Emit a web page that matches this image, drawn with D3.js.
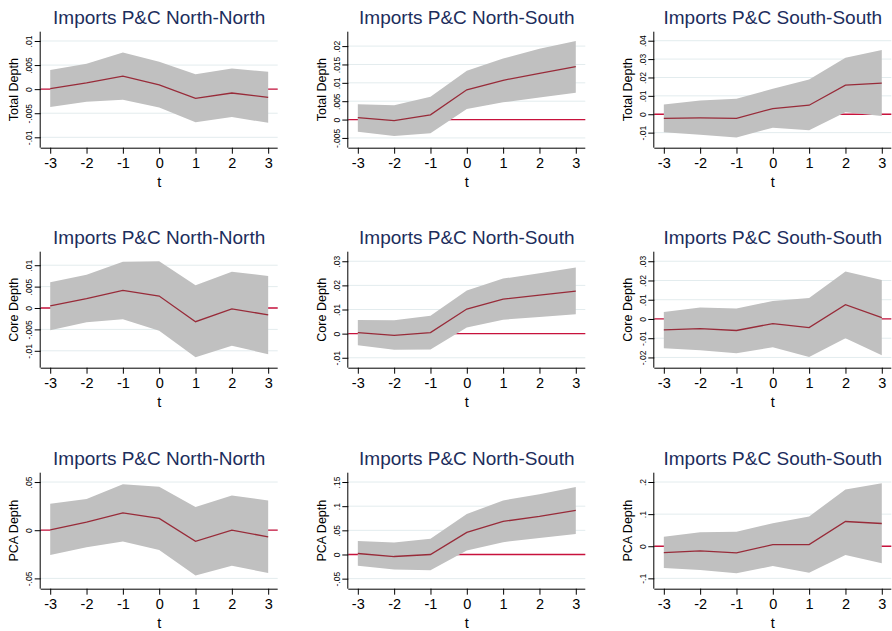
<!DOCTYPE html>
<html>
<head>
<meta charset="utf-8">
<script src="https://cdn.jsdelivr.net/npm/d3@7"></script>
<style>
  html, body { margin: 0; padding: 0; background: #ffffff; }
  svg { display: block; }
  text { font-family: "Liberation Sans", Arial, Helvetica, sans-serif; }
</style>
</head>
<body>
<svg id="chart" width="892" height="631"></svg>
<script>
// ---------------- DATA ----------------
const periods = [-3, -2, -1, 0, 1, 2, 3];
const panelTitles = ["Imports P&C North-North", "Imports P&C North-South", "Imports P&C South-South"];
const depthLabels = ["Total Depth", "Core Depth", "PCA Depth"];
const xAxisLabel = "t";

// Total Depth
const totalNN_mean = [0.0001, 0.0013, 0.0027, 0.0009, -0.0019, -0.0008, -0.0017];
const totalNN_hi   = [0.0040, 0.0053, 0.0076, 0.0057, 0.0031, 0.0043, 0.0036];
const totalNN_lo   = [-0.0037, -0.0026, -0.0022, -0.0038, -0.0069, -0.0058, -0.0070];
const totalNS_mean = [0.0005, -0.0003, 0.0013, 0.0081, 0.0107, 0.0126, 0.0144];
const totalNS_hi   = [0.0042, 0.0039, 0.0062, 0.0133, 0.0166, 0.0193, 0.0214];
const totalNS_lo   = [-0.0033, -0.0045, -0.0037, 0.0029, 0.0047, 0.0060, 0.0073];
const totalSS_mean = [-0.0022, -0.0020, -0.0022, 0.0031, 0.0049, 0.0158, 0.0169];
const totalSS_hi   = [0.0053, 0.0075, 0.0084, 0.0138, 0.0189, 0.0307, 0.0349];
const totalSS_lo   = [-0.0098, -0.0111, -0.0127, -0.0073, -0.0087, 0.0011, -0.0009];

// Core Depth
const coreNN_mean = [0.0005, 0.0022, 0.0041, 0.0028, -0.0032, -0.0002, -0.0016];
const coreNN_hi   = [0.0060, 0.0078, 0.0108, 0.0109, 0.0053, 0.0085, 0.0075];
const coreNN_lo   = [-0.0052, -0.0033, -0.0026, -0.0053, -0.0115, -0.0088, -0.0108];
const coreNS_mean = [0.0004, -0.0007, 0.0004, 0.0102, 0.0143, 0.0160, 0.0176];
const coreNS_hi   = [0.0056, 0.0055, 0.0074, 0.0179, 0.0228, 0.0250, 0.0274];
const coreNS_lo   = [-0.0048, -0.0067, -0.0066, 0.0025, 0.0058, 0.0069, 0.0080];
const coreSS_mean = [-0.0057, -0.0050, -0.0060, -0.0024, -0.0045, 0.0074, 0.0007];
const coreSS_hi   = [0.0036, 0.0059, 0.0055, 0.0093, 0.0109, 0.0247, 0.0203];
const coreSS_lo   = [-0.0152, -0.0162, -0.0178, -0.0147, -0.0198, -0.0100, -0.0188];

// PCA Depth
const pcaNN_mean = [0.0003, 0.0083, 0.0180, 0.0122, -0.0115, 0.0000, -0.0069];
const pcaNN_hi   = [0.0274, 0.0323, 0.0476, 0.0451, 0.0240, 0.0361, 0.0309];
const pcaNN_lo   = [-0.0257, -0.0177, -0.0118, -0.0205, -0.0469, -0.0368, -0.0444];
const pcaNS_mean = [0.0021, -0.0042, 0.0000, 0.0457, 0.0685, 0.0789, 0.0914];
const pcaNS_hi   = [0.0277, 0.0249, 0.0325, 0.0837, 0.1120, 0.1246, 0.1398];
const pcaNS_lo   = [-0.0235, -0.0311, -0.0325, 0.0083, 0.0256, 0.0339, 0.0422];
const pcaSS_mean = [-0.0198, -0.0146, -0.0208, 0.0052, 0.0052, 0.0771, 0.0708];
const pcaSS_hi   = [0.0292, 0.0438, 0.0448, 0.0719, 0.0927, 0.1770, 0.1960];
const pcaSS_lo   = [-0.0677, -0.0740, -0.0844, -0.0615, -0.0823, -0.0271, -0.0531];

// Axis ticks (values) per panel
const ticksTotalNN = [-0.01, -0.005, 0, 0.005, 0.01];
const ticksTotalNS = [-0.005, 0, 0.005, 0.01, 0.015, 0.02];
const ticksTotalSS = [-0.01, 0, 0.01, 0.02, 0.03, 0.04];
const ticksCoreNN  = [-0.01, -0.005, 0, 0.005, 0.01];
const ticksCoreNS  = [-0.01, 0, 0.01, 0.02, 0.03];
const ticksCoreSS  = [-0.02, -0.01, 0, 0.01, 0.02, 0.03];
const ticksPcaNN   = [-0.05, 0, 0.05];
const ticksPcaNS   = [-0.05, 0, 0.05, 0.1, 0.15];
const ticksPcaSS   = [-0.1, 0, 0.1, 0.2];

// Axis ranges per panel
const rangeTotalNN = [-0.01216, 0.01193];
const rangeTotalNS = [-0.00766, 0.02392];
const rangeTotalSS = [-0.0182, 0.0449];
const rangeCoreNN  = [-0.01395, 0.01316];
const rangeCoreNS  = [-0.01412, 0.03396];
const rangeCoreSS  = [-0.02533, 0.03496];
const rangePcaNN   = [-0.0607, 0.0597];
const rangePcaNS   = [-0.0708, 0.1693];
const rangePcaSS   = [-0.1322, 0.229];

const panels = [
  {row: 0, col: 0, mean: totalNN_mean, hi: totalNN_hi, lo: totalNN_lo, ticks: ticksTotalNN, range: rangeTotalNN},
  {row: 0, col: 1, mean: totalNS_mean, hi: totalNS_hi, lo: totalNS_lo, ticks: ticksTotalNS, range: rangeTotalNS},
  {row: 0, col: 2, mean: totalSS_mean, hi: totalSS_hi, lo: totalSS_lo, ticks: ticksTotalSS, range: rangeTotalSS},
  {row: 1, col: 0, mean: coreNN_mean, hi: coreNN_hi, lo: coreNN_lo, ticks: ticksCoreNN, range: rangeCoreNN},
  {row: 1, col: 1, mean: coreNS_mean, hi: coreNS_hi, lo: coreNS_lo, ticks: ticksCoreNS, range: rangeCoreNS},
  {row: 1, col: 2, mean: coreSS_mean, hi: coreSS_hi, lo: coreSS_lo, ticks: ticksCoreSS, range: rangeCoreSS},
  {row: 2, col: 0, mean: pcaNN_mean, hi: pcaNN_hi, lo: pcaNN_lo, ticks: ticksPcaNN, range: rangePcaNN},
  {row: 2, col: 1, mean: pcaNS_mean, hi: pcaNS_hi, lo: pcaNS_lo, ticks: ticksPcaNS, range: rangePcaNS},
  {row: 2, col: 2, mean: pcaSS_mean, hi: pcaSS_hi, lo: pcaSS_lo, ticks: ticksPcaSS, range: rangePcaSS}
];

// ---------------- LAYOUT ----------------
const colLeft = [40.7, 348.3, 654.3];
const rowTop = [31.7, 251.7, 472.7];
const plotW = 237;
const plotH = 116;
const xPad = 0.262; // extra x-range beyond -3..3

const COLORS = {
  title: "#1c2d5c",
  band: "#c0c0c0",
  mean: "#982b39",
  zero: "#c8123c",
  grid: "#e3ecee",
  axis: "#000000",
  text: "#000000"
};

function stataFmt(v) {
  if (v === 0) return "0";
  let s = String(+v.toFixed(4));
  s = s.replace(/^0\./, ".").replace(/^-0\./, "-.");
  return s;
}

const svg = d3.select("#chart");

panels.forEach(p => {
  const left = colLeft[p.col];
  const top = rowTop[p.row];
  const g = svg.append("g").attr("transform", `translate(${left},${top})`);

  const x = d3.scaleLinear()
    .domain([periods[0] - xPad, periods[periods.length - 1] + xPad])
    .range([0, plotW]);
  const y = d3.scaleLinear().domain(p.range).range([plotH, 0]);

  // grid
  g.append("g").selectAll("line").data(p.ticks).join("line")
    .attr("x1", 0).attr("x2", plotW)
    .attr("y1", d => y(d)).attr("y2", d => y(d))
    .attr("stroke", COLORS.grid).attr("stroke-width", 1);

  // zero line
  g.append("line")
    .attr("x1", 0).attr("x2", plotW)
    .attr("y1", y(0)).attr("y2", y(0))
    .attr("stroke", COLORS.zero).attr("stroke-width", 1.3);

  const rows = periods.map((t, i) => ({t, m: p.mean[i], hi: p.hi[i], lo: p.lo[i]}));

  // band
  const area = d3.area().x(d => x(d.t)).y0(d => y(d.lo)).y1(d => y(d.hi));
  g.append("path").datum(rows).attr("d", area).attr("fill", COLORS.band);

  // mean line
  const line = d3.line().x(d => x(d.t)).y(d => y(d.m));
  g.append("path").datum(rows).attr("d", line)
    .attr("fill", "none").attr("stroke", COLORS.mean).attr("stroke-width", 1.3);

  // x axis
  const xAxis = d3.axisBottom(x).tickValues(periods).tickSize(6).tickPadding(4)
    .tickFormat(d => String(d));
  const xg = g.append("g").attr("transform", `translate(0,${plotH})`).call(xAxis);
  xg.select(".domain").attr("d", `M0,0.5H${plotW}`).attr("stroke", COLORS.axis);
  xg.selectAll(".tick line").attr("stroke", COLORS.axis);
  xg.selectAll(".tick text")
    .attr("font-size", "14.5px").attr("fill", COLORS.text)
    .attr("font-family", '"Liberation Sans", Arial, sans-serif');

  // y axis
  const yAxis = d3.axisLeft(y).tickValues(p.ticks).tickSize(6).tickFormat(stataFmt);
  const yg = g.append("g").call(yAxis);
  yg.select(".domain").attr("d", `M-0.5,0V${plotH}`).attr("stroke", COLORS.axis);
  yg.selectAll(".tick line").attr("stroke", COLORS.axis);
  yg.selectAll(".tick text")
    .attr("x", null).attr("dy", null)
    .attr("transform", "translate(-8.5,0) rotate(-90)")
    .attr("text-anchor", "middle")
    .attr("font-size", "8.5px").attr("fill", COLORS.text)
    .attr("font-family", '"Liberation Sans", Arial, sans-serif');

  // y axis title
  g.append("text")
    .attr("transform", `translate(-22.5,${plotH / 2}) rotate(-90)`)
    .attr("text-anchor", "middle")
    .attr("font-size", "12.5px").attr("fill", COLORS.text)
    .text(depthLabels[p.row]);

  // x axis title
  g.append("text")
    .attr("x", plotW / 2).attr("y", plotH + 39)
    .attr("text-anchor", "middle")
    .attr("font-size", "14.5px").attr("fill", COLORS.text)
    .text(xAxisLabel);

  // panel title
  g.append("text")
    .attr("x", plotW / 2).attr("y", -7.6)
    .attr("text-anchor", "middle")
    .attr("font-size", "19px").attr("fill", COLORS.title)
    .text(panelTitles[p.col]);
});
</script>
</body>
</html>
